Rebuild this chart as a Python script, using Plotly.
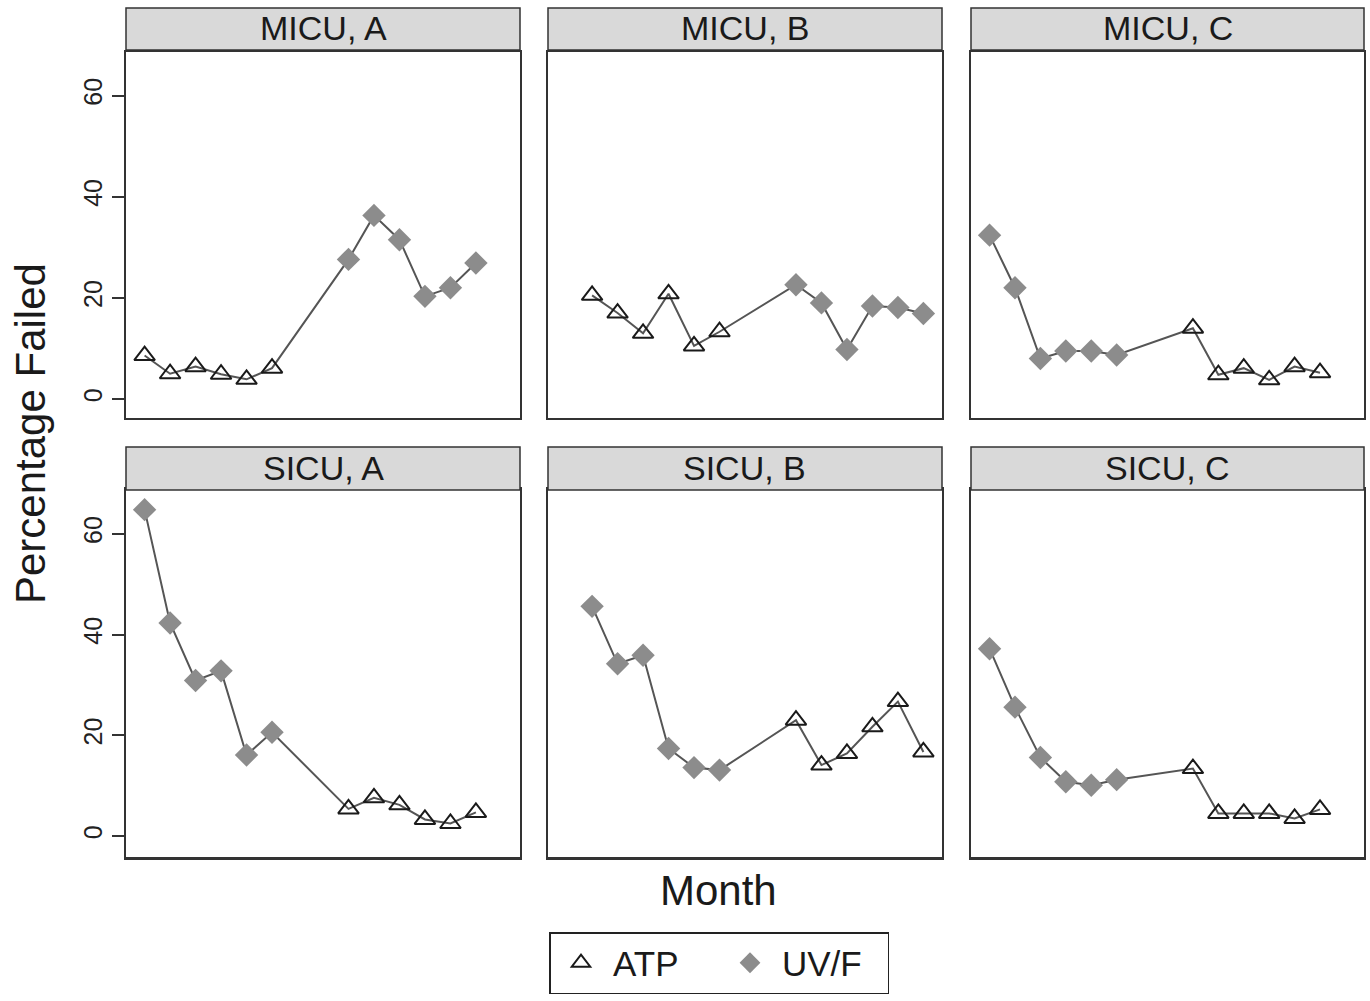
import plotly.graph_objects as go

# ---------------- data ----------------
panel_titles = ["MICU, A", "MICU, B", "MICU, C", "SICU, A", "SICU, B", "SICU, C"]

micu_a_atp_month = [1, 2, 3, 4, 5, 6]
micu_a_atp_value = [8.6, 5.0, 6.4, 4.9, 3.9, 6.1]
micu_a_uvf_month = [9, 10, 11, 12, 13, 14]
micu_a_uvf_value = [27.6, 36.3, 31.5, 20.3, 22.0, 26.9]

micu_b_atp_month = [2, 3, 4, 5, 6, 7]
micu_b_atp_value = [20.5, 17.0, 13.0, 20.8, 10.5, 13.3]
micu_b_uvf_month = [10, 11, 12, 13, 14, 15]
micu_b_uvf_value = [22.6, 19.0, 9.8, 18.4, 18.1, 16.9]

micu_c_uvf_month = [1, 2, 3, 4, 5, 6]
micu_c_uvf_value = [32.4, 22.0, 8.0, 9.5, 9.5, 8.7]
micu_c_atp_month = [9, 10, 11, 12, 13, 14]
micu_c_atp_value = [14.0, 4.8, 6.1, 3.8, 6.4, 5.2]

sicu_a_uvf_month = [1, 2, 3, 4, 5, 6]
sicu_a_uvf_value = [64.8, 42.3, 30.9, 32.8, 16.1, 20.6]
sicu_a_atp_month = [9, 10, 11, 12, 13, 14]
sicu_a_atp_value = [5.4, 7.6, 6.2, 3.3, 2.5, 4.7]

sicu_b_uvf_month = [2, 3, 4, 5, 6, 7]
sicu_b_uvf_value = [45.6, 34.2, 35.9, 17.4, 13.6, 13.1]
sicu_b_atp_month = [10, 11, 12, 13, 14, 15]
sicu_b_atp_value = [23.0, 14.1, 16.4, 21.7, 26.7, 16.7]

sicu_c_uvf_month = [1, 2, 3, 4, 5, 6]
sicu_c_uvf_value = [37.2, 25.6, 15.6, 10.8, 10.1, 11.2]
sicu_c_atp_month = [9, 10, 11, 12, 13, 14]
sicu_c_atp_value = [13.4, 4.5, 4.5, 4.5, 3.5, 5.3]

y_tick_values = [0, 20, 40, 60]
y_tick_labels = ["0", "20", "40", "60"]

panels = [
    (micu_a_atp_month, micu_a_atp_value, micu_a_uvf_month, micu_a_uvf_value),
    (micu_b_atp_month, micu_b_atp_value, micu_b_uvf_month, micu_b_uvf_value),
    (micu_c_atp_month, micu_c_atp_value, micu_c_uvf_month, micu_c_uvf_value),
    (sicu_a_atp_month, sicu_a_atp_value, sicu_a_uvf_month, sicu_a_uvf_value),
    (sicu_b_atp_month, sicu_b_atp_value, sicu_b_uvf_month, sicu_b_uvf_value),
    (sicu_c_atp_month, sicu_c_atp_value, sicu_c_uvf_month, sicu_c_uvf_value),
]

# ---------------- layout geometry (pixels) ----------------
W, H = 1370, 1001
col_px = [(126, 520), (548, 942), (971, 1364)]
row_px = [(52, 418), (490, 857)]
strip_px = [(8, 50), (447, 490)]
row_yrange = [[-3.75, 68.6], [-4.15, 68.7]]
x_range = [0.27, 15.73]

FONT = "Liberation Sans, Arial, Helvetica, sans-serif"
TXT = "#1a1a1a"
FRAME = "#333333"

def px_x(x):
    return x / W

def px_y(y):
    return 1 - y / H

fig = go.Figure()
layout = dict(
    width=W, height=H,
    margin=dict(l=0, r=0, t=0, b=0),
    paper_bgcolor="white", plot_bgcolor="white",
    font=dict(family=FONT, color=TXT),
    shapes=[], annotations=[],
)

for i, (am, av, um, uv) in enumerate(panels):
    r, c = divmod(i, 3)
    sfx = "" if i == 0 else str(i + 1)
    xa, ya = "x" + sfx, "y" + sfx

    pts = sorted(list(zip(am, av)) + list(zip(um, uv)))
    fig.add_trace(go.Scatter(
        x=[p[0] for p in pts], y=[p[1] for p in pts], mode="lines",
        line=dict(color="#555555", width=2), showlegend=False,
        hoverinfo="skip", xaxis=xa, yaxis=ya))
    fig.add_trace(go.Scatter(
        x=am, y=av, mode="markers", name="ATP", legendgroup="ATP",
        showlegend=(i == 0),
        marker=dict(symbol="triangle-up-open", size=18, color="#1a1a1a",
                    line=dict(width=2, color="#1a1a1a")),
        xaxis=xa, yaxis=ya))
    fig.add_trace(go.Scatter(
        x=um, y=uv, mode="markers", name="UV/F", legendgroup="UVF",
        showlegend=(i == 0),
        marker=dict(symbol="diamond", size=18, color="#8c8c8c",
                    line=dict(width=0)),
        xaxis=xa, yaxis=ya))

    x0, x1 = col_px[c]
    yt, yb = row_px[r]
    lw = 1.5 if r == 0 else 2.5
    layout["xaxis" + sfx] = dict(
        domain=[px_x(x0), px_x(x1)], anchor=ya, range=x_range,
        showgrid=False, zeroline=False, showticklabels=False, ticks="",
        showline=True, mirror=True, linecolor=FRAME, linewidth=lw)
    layout["yaxis" + sfx] = dict(
        domain=[px_y(yb), px_y(yt)], anchor=xa, range=row_yrange[r],
        showgrid=False, zeroline=False,
        tickvals=y_tick_values, ticktext=y_tick_labels,
        showticklabels=(c == 0), ticks="outside" if c == 0 else "",
        ticklen=12, tickwidth=1.5, tickcolor=FRAME, tickangle=-90,
        tickfont=dict(size=25, color="#222222", family=FONT),
        showline=True, mirror=True, linecolor=FRAME, linewidth=1.5)

    s0, s1 = strip_px[r]
    layout["shapes"].append(dict(
        type="rect", xref="paper", yref="paper",
        x0=px_x(x0), x1=px_x(x1), y0=px_y(s1), y1=px_y(s0),
        fillcolor="#d9d9d9", line=dict(color=FRAME, width=1.5), layer="above"))
    layout["annotations"].append(dict(
        text=panel_titles[i], xref="paper", yref="paper",
        x=px_x((x0 + x1) / 2), y=px_y((s0 + s1) / 2 - 1),
        xanchor="center", yanchor="middle", showarrow=False,
        font=dict(size=34, color=TXT, family=FONT)))

layout["annotations"].append(dict(
    text="Percentage Failed", xref="paper", yref="paper",
    x=px_x(30), y=px_y(434), textangle=-90, showarrow=False,
    xanchor="center", yanchor="middle",
    font=dict(size=42, color=TXT, family=FONT)))
layout["annotations"].append(dict(
    text="Month", xref="paper", yref="paper",
    x=px_x(718), y=px_y(890), showarrow=False,
    xanchor="center", yanchor="middle",
    font=dict(size=42, color=TXT, family=FONT)))

layout["legend"] = dict(
    orientation="h", x=px_x(719), xanchor="center",
    y=px_y(932), yanchor="top",
    bordercolor="#222222", borderwidth=1.5, bgcolor="white",
    font=dict(size=35, color=TXT, family=FONT),
    itemwidth=54, entrywidth=100, entrywidthmode="pixels",
    tracegroupgap=0)
layout["showlegend"] = True

fig.update_layout(**layout)
fig.write_html("out.html")
